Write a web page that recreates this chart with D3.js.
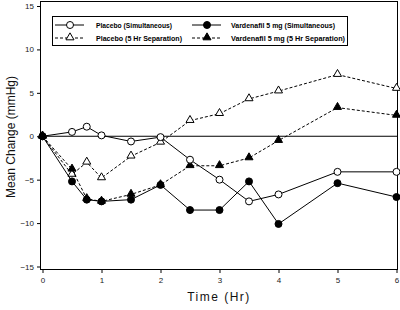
<!DOCTYPE html>
<html lang="en">
<head>
<meta charset="UTF-8">
<script src="https://d3js.org/d3.v7.min.js"></script>
<style>
    body { margin: 0; background: #fff; }
    svg { display: block; }
    .tick text { font-family: Arial, "Liberation Sans", sans-serif; font-size: 8px; fill: #222; }
    .legend_text { font-family: "Liberation Sans Narrow", Arial, sans-serif; font-size: 8px; font-weight: bold; }
    .axis_title { font-family: Arial, "Liberation Sans", sans-serif; font-size: 12px; fill: #111; }
</style>
</head>
<body>
<svg width="400" height="310"></svg>
<script>
    // time points (hours)
    const times = [0, 0.5, 0.75, 1, 1.5, 2, 2.5, 3, 3.5, 4, 5, 6];

    // mean change values (mmHg)
    const placeboSim = [0, 0.5, 1.1, 0.1, -0.6, -0.1, -2.7, -5.0, -7.5, -6.7, -4.1, -4.1];
    const vardSim = [0, -5.2, -7.3, -7.5, -7.3, -5.6, -8.5, -8.5, -5.2, -10.1, -5.4, -7.0];
    const placeboSep = [0, -4.4, -3.0, -4.8, -2.3, -0.7, 1.8, 2.6, 4.3, 5.2, 7.1, 5.5];
    const vardSep = [0, -3.8, -7.2, -7.5, -6.7, -5.6, -3.4, -3.4, -2.5, -0.5, 3.3, 2.4];

    const xTicks = [0, 1, 2, 3, 4, 5, 6];
    const yTicks = [-15, -10, -5, 0, 5, 10, 15];

    const seriesNames = ["Placebo (Simultaneous)", "Placebo (5 Hr Separation)",
        "Vardenafil 5 mg (Simultaneous)", "Vardenafil 5 mg (5 Hr Separation)"];

    let svg = d3.select("svg");

    // scales
    let x = d3.scaleLinear().domain([0, 6]).range([42.5, 396.5]);
    let y = d3.scaleLinear().domain([-15, 15]).range([266.5, 6]);

    // plot frame
    svg.append("rect")
        .attr("x", 40.5).attr("y", 1.5)
        .attr("width", 357).attr("height", 268)
        .attr("fill", "none").attr("stroke", "#000").attr("stroke-width", 1);

    // axes
    let xAxis = d3.axisBottom(x).tickValues(xTicks).tickSize(3).tickPadding(4).tickFormat(d3.format("d"));
    let gx = svg.append("g").attr("transform", "translate(0,270)").call(xAxis);
    gx.select(".domain").remove();

    let yAxis = d3.axisLeft(y).tickValues(yTicks).tickSize(3).tickPadding(3).tickFormat(d3.format("d"));
    let gy = svg.append("g").attr("transform", "translate(40,0)").call(yAxis);
    gy.select(".domain").remove();

    // zero line
    svg.append("line")
        .attr("x1", 40).attr("x2", 398)
        .attr("y1", y(0)).attr("y2", y(0))
        .attr("stroke", "#000").attr("stroke-width", 1);

    const line = d3.line().x(d => x(d[0])).y(d => y(d[1]));

    const series = [
        { vals: placeboSep, dash: "3,2", marker: "triangle", fill: "#fff" },
        { vals: vardSep, dash: "3,2", marker: "triangle", fill: "#000" },
        { vals: placeboSim, dash: null, marker: "circle", fill: "#fff" },
        { vals: vardSim, dash: null, marker: "circle", fill: "#000" }
    ];

    const tri = d3.symbol().type(d3.symbolTriangle).size(28);

    function drawMarker(g, type, fill, cx, cy) {
        if (type === "circle") {
            g.append("circle").attr("cx", cx).attr("cy", cy).attr("r", 3.5)
                .attr("fill", fill).attr("stroke", "#000").attr("stroke-width", 1);
        } else {
            g.append("path").attr("d", tri())
                .attr("transform", "translate(" + cx + "," + (cy - 0.5) + ")")
                .attr("fill", fill).attr("stroke", "#000").attr("stroke-width", 1);
        }
    }

    series.forEach(function (s) {
        let pts = times.map((t, i) => [t, s.vals[i]]);
        let g = svg.append("g");
        g.append("path")
            .attr("d", line(pts))
            .attr("fill", "none")
            .attr("stroke", "#000")
            .attr("stroke-width", 1)
            .attr("stroke-dasharray", s.dash);
        pts.forEach(p => drawMarker(g, s.marker, s.fill, x(p[0]), y(p[1])));
    });

    // legend
    let lg = svg.append("g");
    lg.append("rect").attr("x", 52.5).attr("y", 16.5).attr("width", 295).attr("height", 29)
        .attr("fill", "#fff").attr("stroke", "#000").attr("stroke-width", 1);

    const legendItems = [
        { name: seriesNames[0], col: 0, row: 0, dash: null, marker: "circle", fill: "#fff", len: 76 },
        { name: seriesNames[1], col: 0, row: 1, dash: "3,2", marker: "triangle", fill: "#fff", len: 86 },
        { name: seriesNames[2], col: 1, row: 0, dash: null, marker: "circle", fill: "#000", len: 104 },
        { name: seriesNames[3], col: 1, row: 1, dash: "3,2", marker: "triangle", fill: "#000", len: 114 }
    ];
    const colX = [55, 192];
    const textX = [96, 231];
    const rowY = [25, 38];

    legendItems.forEach(function (d) {
        let x0 = colX[d.col], yy = rowY[d.row];
        lg.append("line").attr("x1", x0).attr("x2", x0 + 29).attr("y1", yy).attr("y2", yy)
            .attr("stroke", "#000").attr("stroke-width", 1).attr("stroke-dasharray", d.dash);
        drawMarker(lg, d.marker, d.fill, x0 + 15, yy);
        lg.append("text").attr("class", "legend_text")
            .attr("x", textX[d.col]).attr("y", yy + 3)
            .attr("textLength", d.len).attr("lengthAdjust", "spacingAndGlyphs")
            .text(d.name);
    });

    // axis titles
    svg.append("text").attr("class", "axis_title")
        .attr("x", 219).attr("y", 301)
        .attr("text-anchor", "middle")
        .attr("letter-spacing", "1.5px")
        .text("Time (Hr)");

    svg.append("text").attr("class", "axis_title")
        .attr("transform", "translate(15,137) rotate(-90)")
        .attr("text-anchor", "middle")
        .text("Mean Change (mmHg)");
</script>
</body>
</html>
